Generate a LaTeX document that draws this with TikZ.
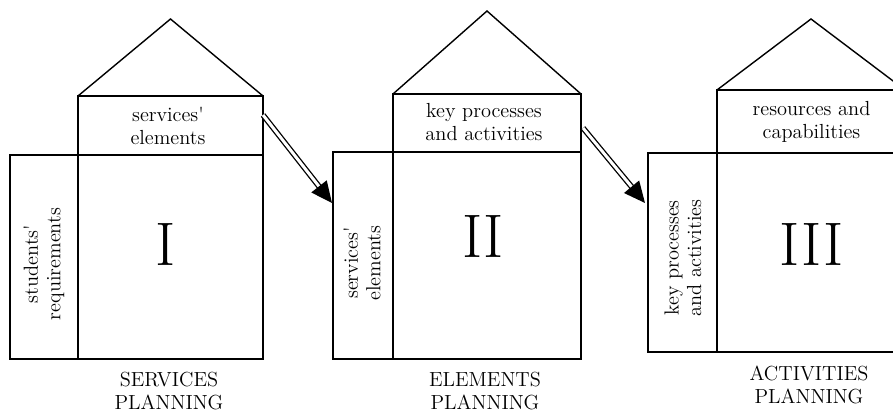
\documentclass[tikz,border=0pt]{standalone}
\usetikzlibrary{arrows.meta}

\begin{document}
\begin{tikzpicture}[
		wall/.style={draw, line width=0.8pt},
		txt/.style={font=\fontsize{11.6}{12.8}\selectfont, align=center, inner sep=0pt},
		num/.style={font=\fontsize{35}{40}\selectfont, inner sep=0pt},
		link/.style={double, double distance=1.7pt, line width=0.75pt, -{Triangle[length=12pt,width=11pt]}}
	]
		\useasboundingbox (0,0) rectangle (17.86,8.24);
		\clip (0,0) rectangle (17.86,8.24);

		% house I
		\draw[wall] (0.2,1.06) rectangle (1.56,5.14);
		\draw[wall] (1.56,1.06) rectangle (5.26,5.14);
		\draw[wall] (1.56,5.14) rectangle (5.26,6.32);
		\draw[wall] (1.56,6.32) -- (3.41,7.86) -- (5.26,6.32);
		\node[txt] (top1) at (3.36,5.72) {services\textquotesingle\\elements};
		\node[txt, rotate=90] (side1) at (0.88,2.96) {students\textquotesingle\\requirements};
		\node[num] (num1) at (3.32,3.34) {I};
		\node[txt] (plan1) at (3.38,0.42) {SERVICES\\PLANNING};

		% house II
		\draw[wall] (6.66,1.06) rectangle (7.86,5.2);
		\draw[wall] (7.86,1.06) rectangle (11.62,5.2);
		\draw[wall] (7.86,5.2) rectangle (11.62,6.36);
		\draw[wall] (7.86,6.36) -- (9.74,8.02) -- (11.62,6.36);
		\node[txt] (top2) at (9.68,5.8) {key processes\\and activities};
		\node[txt, rotate=90] (side2) at (7.24,2.98) {services\textquotesingle\\elements};
		\node[num] (num2) at (9.66,3.5) {II};
		\node[txt] (plan2) at (9.7,0.42) {ELEMENTS\\PLANNING};

		% house III
		\draw[wall] (12.96,1.2) rectangle (14.34,5.18);
		\draw[wall] (14.34,1.2) rectangle (18.1,5.18);
		\draw[wall] (14.34,5.18) rectangle (18.1,6.44);
		\draw[wall] (14.34,6.44) -- (16.22,7.86) -- (18.1,6.44);
		\node[txt] (top3) at (16.23,5.8) {resources and\\capabilities};
		\node[txt, rotate=90] (side3) at (13.66,3.08) {key processes\\and activities};
		\node[num] (num3) at (16.23,3.34) {III};
		\node[txt] (plan3) at (16.18,0.54) {ACTIVITIES\\PLANNING};

		% arrows between the houses
		\coordinate (out1) at (5.26,5.94);
		\coordinate (in2) at (6.64,4.18);
		\coordinate (out2) at (11.66,5.68);
		\coordinate (in3) at (12.9,4.18);
		\draw[link] (out1) -- (in2);
		\draw[link] (out2) -- (in3);
	\end{tikzpicture}
\end{document}
